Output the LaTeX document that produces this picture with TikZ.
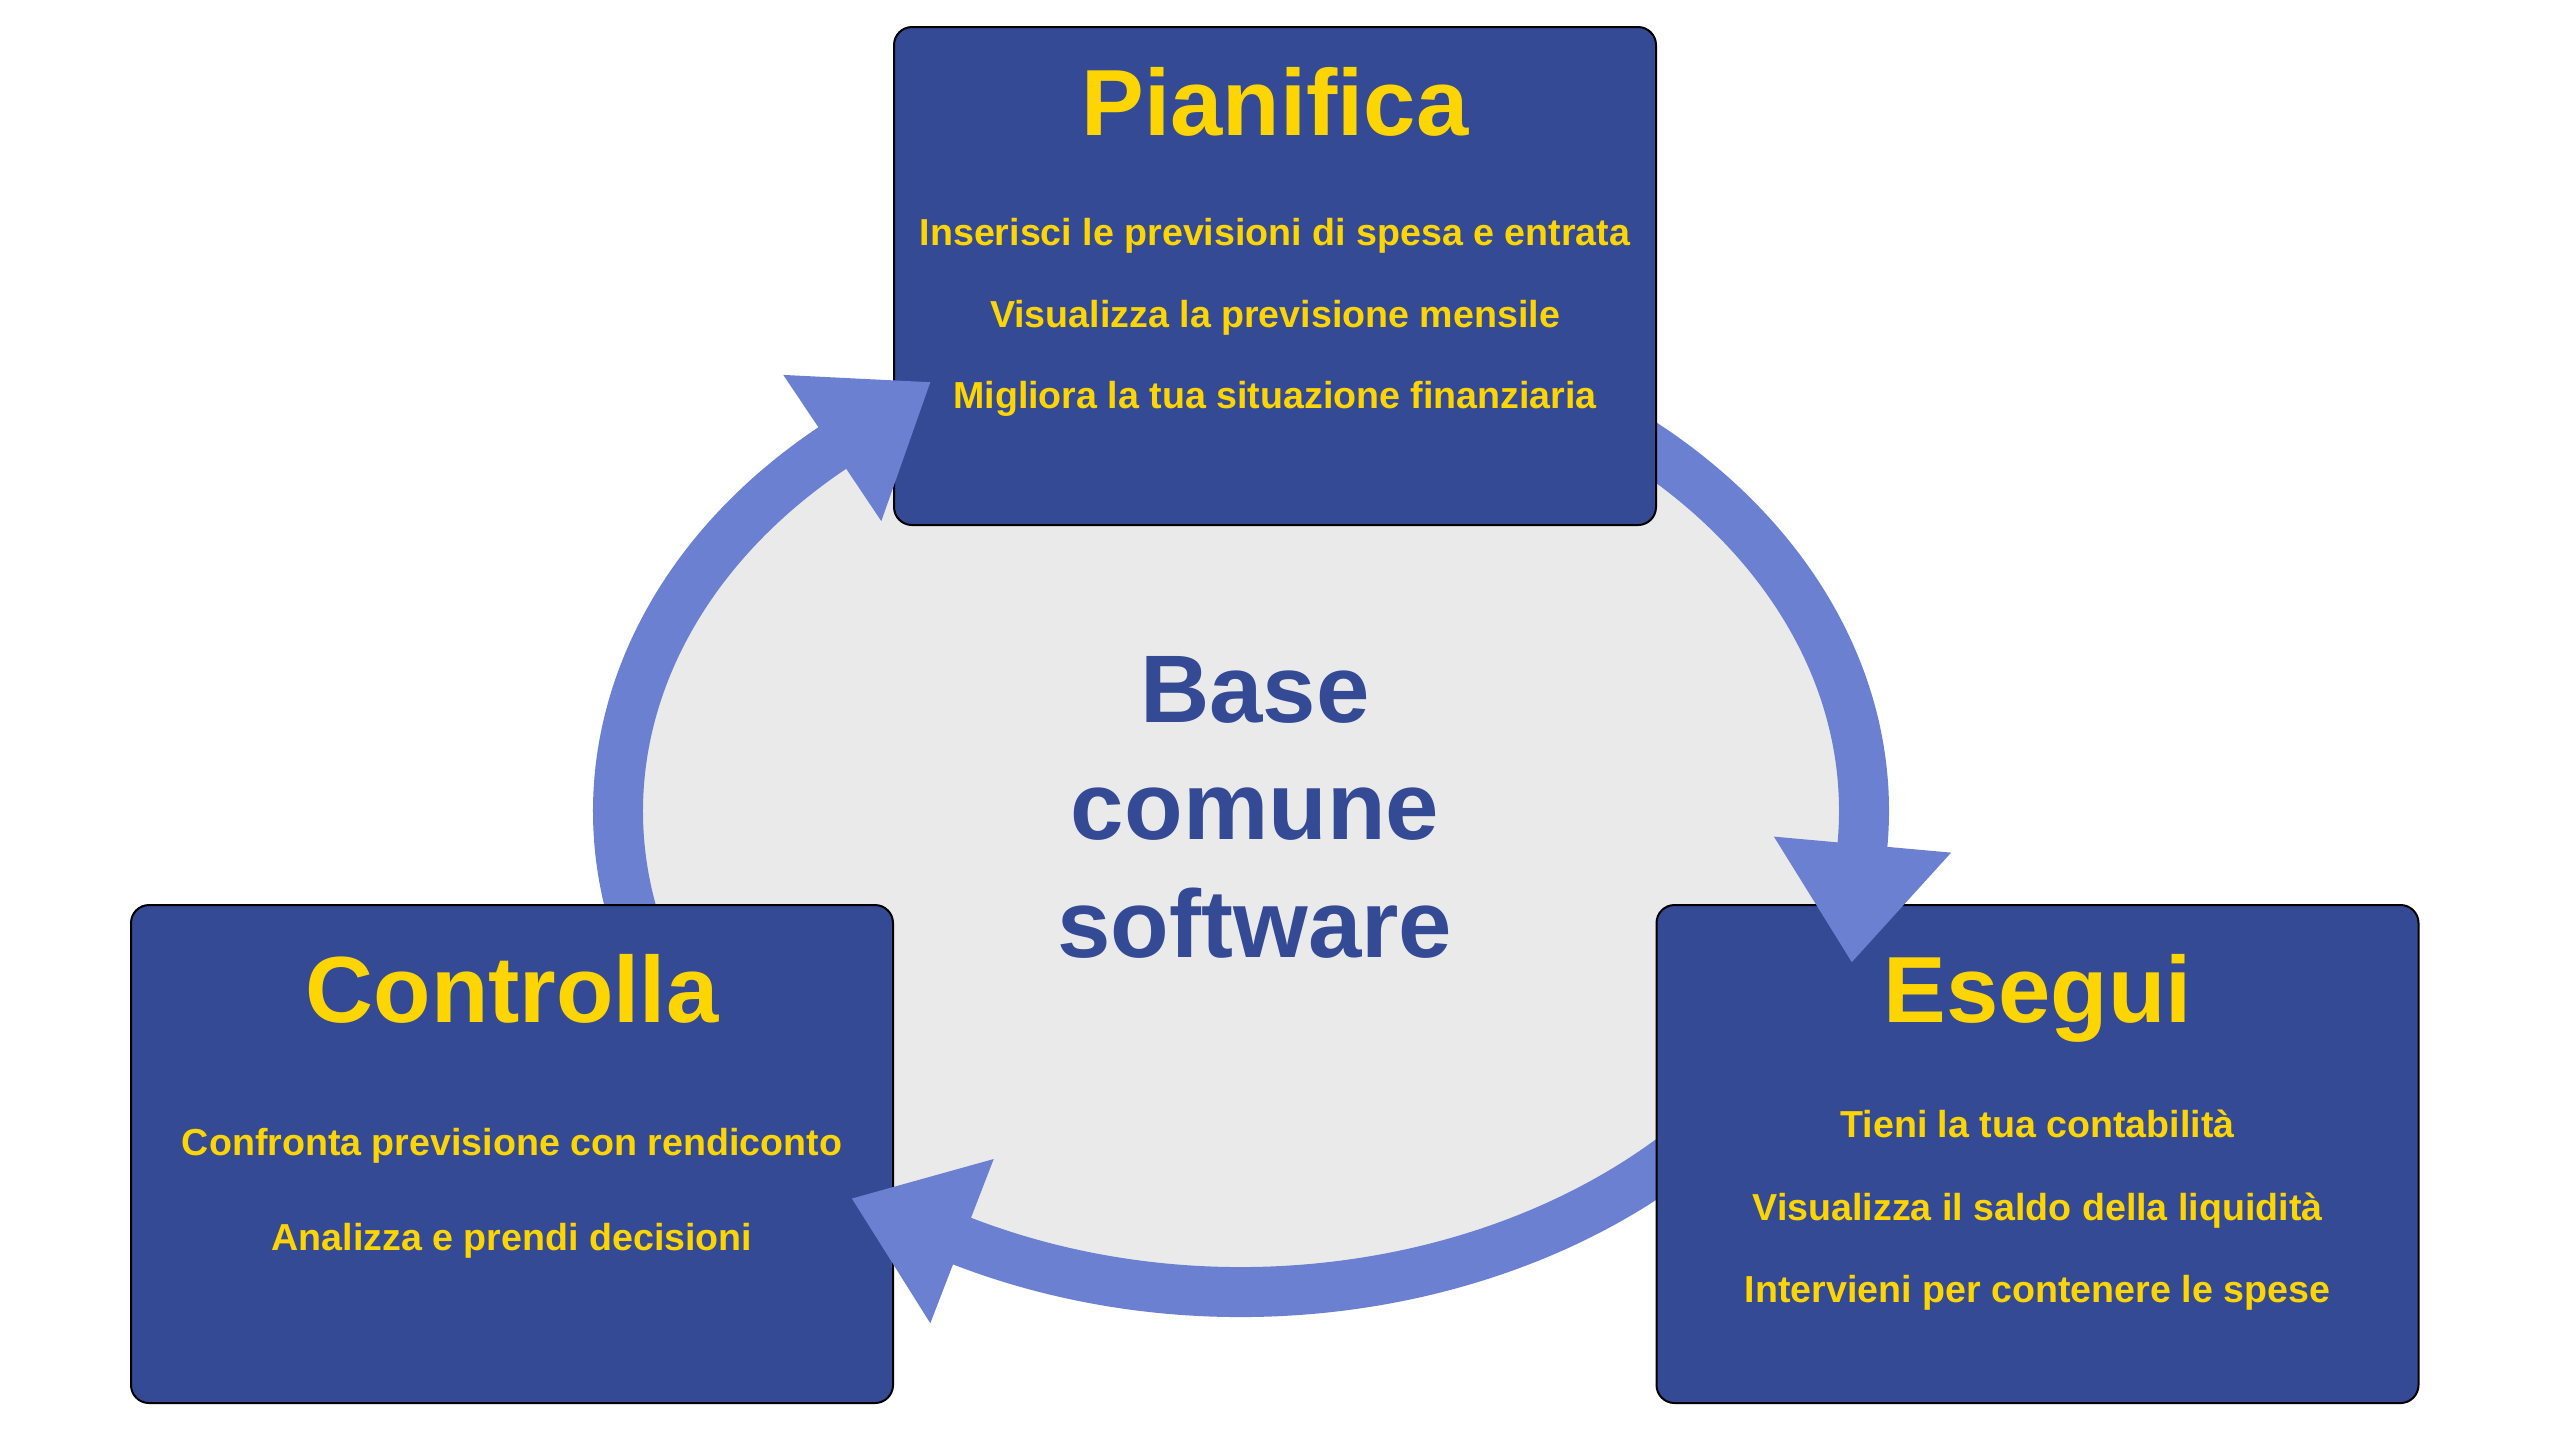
\documentclass[tikz,border=0pt]{standalone}
\usepackage{fontspec}
\setmainfont{Liberation Sans}
\definecolor{boxblue}{HTML}{354A94}
\definecolor{ylw}{HTML}{FFD500}
\definecolor{ringblue}{HTML}{6C80D2}
\definecolor{bggray}{HTML}{EAEAEA}
\begin{document}
\begin{tikzpicture}[x=0.25pt,y=-0.25pt,
  stagebox/.style={draw=black, line width=0.5pt, fill=boxblue, rounded corners=4.5pt,
    minimum width=190.5pt, minimum height=124.5pt, inner sep=0pt},
  stagetitle/.style={text=ylw, font=\fontsize{23.5}{28}\selectfont\bfseries, anchor=base, inner sep=0pt},
  stageitem/.style={text=ylw, font=\fontsize{9.4}{11}\selectfont\bfseries, anchor=base, inner sep=0pt},
  coretext/.style={text=boxblue, font=\fontsize{24}{29}\selectfont\bfseries, anchor=base, inner sep=0pt},
  band/.style={draw=ringblue, line width=12.5pt},
  head/.style={fill=ringblue}]
\fill[white] (0,0) rectangle (2560,1440);
\useasboundingbox (0,0) rectangle (2560,1440);
% common base
\fill[bggray] (1241,811) ellipse [x radius=603, y radius=461];
% ring bands
\draw[band] (1241,811) ++(150:623 and 481) arc[start angle=150, end angle=230, x radius=623, y radius=481];
\draw[band] (1241,811) ++(-75:623 and 481) arc[start angle=-75, end angle=5, x radius=623, y radius=481];
\draw[band] (1241,811) ++(30:623 and 481) arc[start angle=30, end angle=117.6, x radius=623, y radius=481];
% boxes
\node[stagebox] (plan) at (1275,276) {};
\node[stagebox] (ctrl) at (512,1154) {};
\node[stagebox] (exec) at (2037.5,1154) {};
% arrow heads
\coordinate (h1a) at (783.3,374.9); \coordinate (h1t) at (930.3,382.2); \coordinate (h1b) at (881.3,521.1);
\coordinate (h2a) at (1773.9,836.6); \coordinate (h2t) at (1851.8,962.1); \coordinate (h2b) at (1951.1,852.6);
\coordinate (h3a) at (993.7,1159.0); \coordinate (h3t) at (851.9,1198.5); \coordinate (h3b) at (930.3,1323.2);
\fill[head] (h1a) -- (h1t) -- (h1b) -- cycle;
\fill[head] (h2a) -- (h2t) -- (h2b) -- cycle;
\fill[head] (h3a) -- (h3t) -- (h3b) -- cycle;
% texts
\node[stagetitle] (planT) at (1275,135) {Pianifica};
\node[stageitem] (plan1) at (1275,245) {Inserisci le previsioni di spesa e entrata};
\node[stageitem] (plan2) at (1275,327) {Visualizza la previsione mensile};
\node[stageitem] (plan3) at (1275,408) {Migliora la tua situazione finanziaria};
\node[stagetitle] (ctrlT) at (512,1022) {Controlla};
\node[stageitem] (ctrl1) at (512,1155) {Confronta previsione con rendiconto};
\node[stageitem] (ctrl2) at (512,1250) {Analizza e prendi decisioni};
\node[stagetitle] (execT) at (2037.5,1022) {Esegui};
\node[stageitem] (exec1) at (2037.5,1137) {Tieni la tua contabilità};
\node[stageitem] (exec2) at (2037.5,1220) {Visualizza il saldo della liquidità};
\node[stageitem] (exec3) at (2037.5,1302) {Intervieni per contenere le spese};
\node[coretext] (core1) at (1255,722) {Base};
\node[coretext] (core2) at (1255,839) {comune};
\node[coretext] (core3) at (1255,957) {software};
\end{tikzpicture}
\end{document}
